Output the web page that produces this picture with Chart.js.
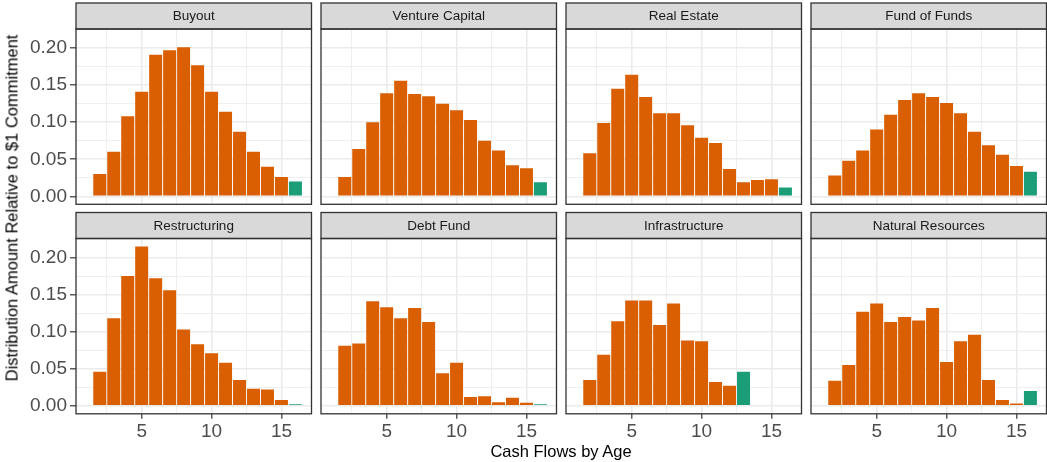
<!DOCTYPE html>
<html>
<head>
<meta charset="utf-8">
<title>Distributions by Age</title>
<script src="https://cdn.jsdelivr.net/npm/chart.js@4.4.1/dist/chart.umd.min.js"></script>
<style>
  html, body { margin: 0; padding: 0; background: #ffffff; overflow: hidden; }
  body { width: 1047px; height: 462px; position: relative; font-family: "Liberation Sans", Arial, sans-serif; }
  canvas { position: absolute; }
  #y-title {
    position: absolute; left: 12px; top: 208px;
    transform: translate(-50%, -50%) rotate(-90deg);
    white-space: nowrap; font-size: 16.5px; color: #000000;
  }
  #x-title {
    position: absolute; left: 561px; top: 451px;
    transform: translate(-50%, -50%);
    white-space: nowrap; font-size: 16.5px; color: #000000;
  }
</style>
</head>
<body>
<div id="panels"></div>
<div id="y-title">Distribution Amount Relative to $1 Commitment</div>
<div id="x-title">Cash Flows by Age</div>

<script>
'use strict';

// fund age (years) for each bar
let ages = [2, 3, 4, 5, 6, 7, 8, 9, 10, 11, 12, 13, 14, 15, 16];

let buyout = [0.030, 0.060, 0.108, 0.141, 0.191, 0.197, 0.201, 0.177, 0.141, 0.114, 0.087, 0.060, 0.040, 0.026, 0.020];
let ventureCapital = [0.026, 0.064, 0.100, 0.139, 0.156, 0.138, 0.135, 0.125, 0.116, 0.103, 0.075, 0.062, 0.042, 0.038, 0.019];
let realEstate = [0.058, 0.099, 0.145, 0.164, 0.134, 0.112, 0.112, 0.096, 0.079, 0.072, 0.037, 0.019, 0.022, 0.023, 0.012];
let fundOfFunds = [0.028, 0.048, 0.062, 0.090, 0.110, 0.130, 0.139, 0.134, 0.126, 0.112, 0.087, 0.069, 0.056, 0.041, 0.033];
let restructuring = [0.046, 0.118, 0.175, 0.215, 0.172, 0.156, 0.103, 0.083, 0.071, 0.058, 0.035, 0.023, 0.022, 0.008, 0.002];
let debtFund = [0.081, 0.084, 0.141, 0.133, 0.118, 0.132, 0.113, 0.044, 0.058, 0.012, 0.013, 0.005, 0.011, 0.004, 0.002];
let infrastructure = [0.035, 0.069, 0.114, 0.142, 0.142, 0.109, 0.138, 0.088, 0.087, 0.032, 0.027, 0.046];
let naturalResources = [0.034, 0.055, 0.127, 0.138, 0.113, 0.120, 0.115, 0.132, 0.059, 0.087, 0.096, 0.035, 0.008, 0.003, 0.020];

let panelNames = ['Buyout', 'Venture Capital', 'Real Estate', 'Fund of Funds',
    'Restructuring', 'Debt Fund', 'Infrastructure', 'Natural Resources'];
let panelValues = [buyout, ventureCapital, realEstate, fundOfFunds,
    restructuring, debtFund, infrastructure, naturalResources];

let yMajor = [0, 0.05, 0.10, 0.15, 0.20];
let yMinor = [0.025, 0.075, 0.125, 0.175, 0.225];
let xMajor = [5, 10, 15];
let xMinor = [2.5, 7.5, 12.5];

let orange = '#d95f02';
let green = '#1b9e77';

// facet grid layout (px)
let plotLeft0 = 76;
let colStep = 245;
let plotW = 235.5;
let plotTop0 = 29;
let rowStep = 209.5;
let plotH = 175.3;
let stripH = 26;
let axisW = 76;
let axisH = 40;

// grey strip with the panel name, plus the dark panel border
let stripPlugin = {
    id: 'strip',
    afterDraw(chart, args, opts) {
        let a = chart.chartArea;
        let ctx = chart.ctx;
        ctx.save();
        ctx.fillStyle = '#d9d9d9';
        ctx.fillRect(a.left, a.top - stripH, a.right - a.left, stripH);
        ctx.strokeStyle = '#333333';
        ctx.lineWidth = 1.3;
        ctx.strokeRect(a.left, a.top - stripH, a.right - a.left, stripH);
        ctx.strokeRect(a.left, a.top, a.right - a.left, a.bottom - a.top);
        ctx.fillStyle = '#1a1a1a';
        ctx.font = '13.5px "Liberation Sans", Arial, sans-serif';
        ctx.textAlign = 'center';
        ctx.textBaseline = 'middle';
        ctx.fillText(opts.text, (a.left + a.right) / 2, a.top - stripH / 2 + 0.5);
        ctx.restore();
    }
};

function isMajor(list, v) {
    return list.indexOf(v) >= 0;
}

function makePanel(i) {
    let row = Math.floor(i / 4);
    let col = i % 4;
    let left = plotLeft0 + col * colStep;
    let top = plotTop0 + row * rowStep;
    let axisL = col === 0 ? axisW : 0;
    let axisB = row === 1 ? axisH : 0;

    let x0 = Math.floor(left - axisL) - 2;
    let y0 = Math.floor(top - stripH) - 2;
    let x1 = Math.ceil(left + plotW) + 2;
    let y1 = Math.ceil(top + plotH + axisB) + 2;

    let canvas = document.createElement('canvas');
    canvas.width = x1 - x0;
    canvas.height = y1 - y0;
    canvas.style.left = x0 + 'px';
    canvas.style.top = y0 + 'px';
    canvas.style.width = (x1 - x0) + 'px';
    canvas.style.height = (y1 - y0) + 'px';
    document.getElementById('panels').appendChild(canvas);

    let values = panelValues[i];
    let points = values.map((v, k) => ({ x: ages[k], y: v }));
    let last = points.length - 1;

    let tickFont = { family: '"Liberation Sans", Arial, sans-serif', size: 19 };

    new Chart(canvas, {
        type: 'bar',
        data: {
            datasets: [{
                data: points,
                backgroundColor: (ctx) => ctx.dataIndex === last ? green : orange,
                borderWidth: 0,
                barPercentage: 0.93,
                categoryPercentage: 1
            }]
        },
        options: {
            responsive: false,
            animation: false,
            layout: {
                padding: {
                    left: left - axisL - x0,
                    right: x1 - left - plotW,
                    top: top - y0,
                    bottom: y1 - top - plotH - axisB
                }
            },
            plugins: {
                legend: { display: false },
                tooltip: { enabled: false },
                strip: { text: panelNames[i] }
            },
            scales: {
                x: {
                    type: 'linear',
                    min: 0.3,
                    max: 17.15,
                    offset: false,
                    border: { display: false },
                    afterBuildTicks: (s) => {
                        s.ticks = xMinor.concat(xMajor).sort((a, b) => a - b).map(v => ({ value: v }));
                    },
                    afterFit: (s) => {
                        s.height = axisB;
                        s.paddingLeft = 0;
                        s.paddingRight = 0;
                    },
                    grid: {
                        offset: false,
                        color: '#ebebeb',
                        lineWidth: (ctx) => isMajor(xMajor, ctx.tick.value) ? 1.6 : 0.8,
                        drawTicks: axisB > 0,
                        tickLength: 5,
                        tickWidth: 1.2,
                        tickColor: (ctx) => isMajor(xMajor, ctx.tick.value) ? '#333333' : 'rgba(0,0,0,0)'
                    },
                    ticks: {
                        display: axisB > 0,
                        autoSkip: false,
                        maxRotation: 0,
                        padding: 2,
                        color: '#4d4d4d',
                        font: tickFont,
                        callback: (v) => isMajor(xMajor, v) ? String(v) : ''
                    }
                },
                y: {
                    type: 'linear',
                    min: -0.01075,
                    max: 0.22575,
                    border: { display: false },
                    afterBuildTicks: (s) => {
                        s.ticks = yMinor.concat(yMajor).sort((a, b) => a - b).map(v => ({ value: v }));
                    },
                    afterFit: (s) => {
                        s.width = axisL;
                        s.paddingTop = 0;
                        s.paddingBottom = 0;
                    },
                    grid: {
                        color: '#ebebeb',
                        lineWidth: (ctx) => isMajor(yMajor, ctx.tick.value) ? 1.6 : 0.8,
                        drawTicks: axisL > 0,
                        tickLength: 6,
                        tickWidth: 1.2,
                        tickColor: (ctx) => isMajor(yMajor, ctx.tick.value) ? '#333333' : 'rgba(0,0,0,0)'
                    },
                    ticks: {
                        display: axisL > 0,
                        autoSkip: false,
                        padding: 3,
                        color: '#4d4d4d',
                        font: tickFont,
                        callback: (v) => isMajor(yMajor, v) ? v.toFixed(2) : ''
                    }
                }
            }
        },
        plugins: [stripPlugin]
    });
}

for (let i = 0; i < panelNames.length; i++) {
    makePanel(i);
}
</script>
</body>
</html>
